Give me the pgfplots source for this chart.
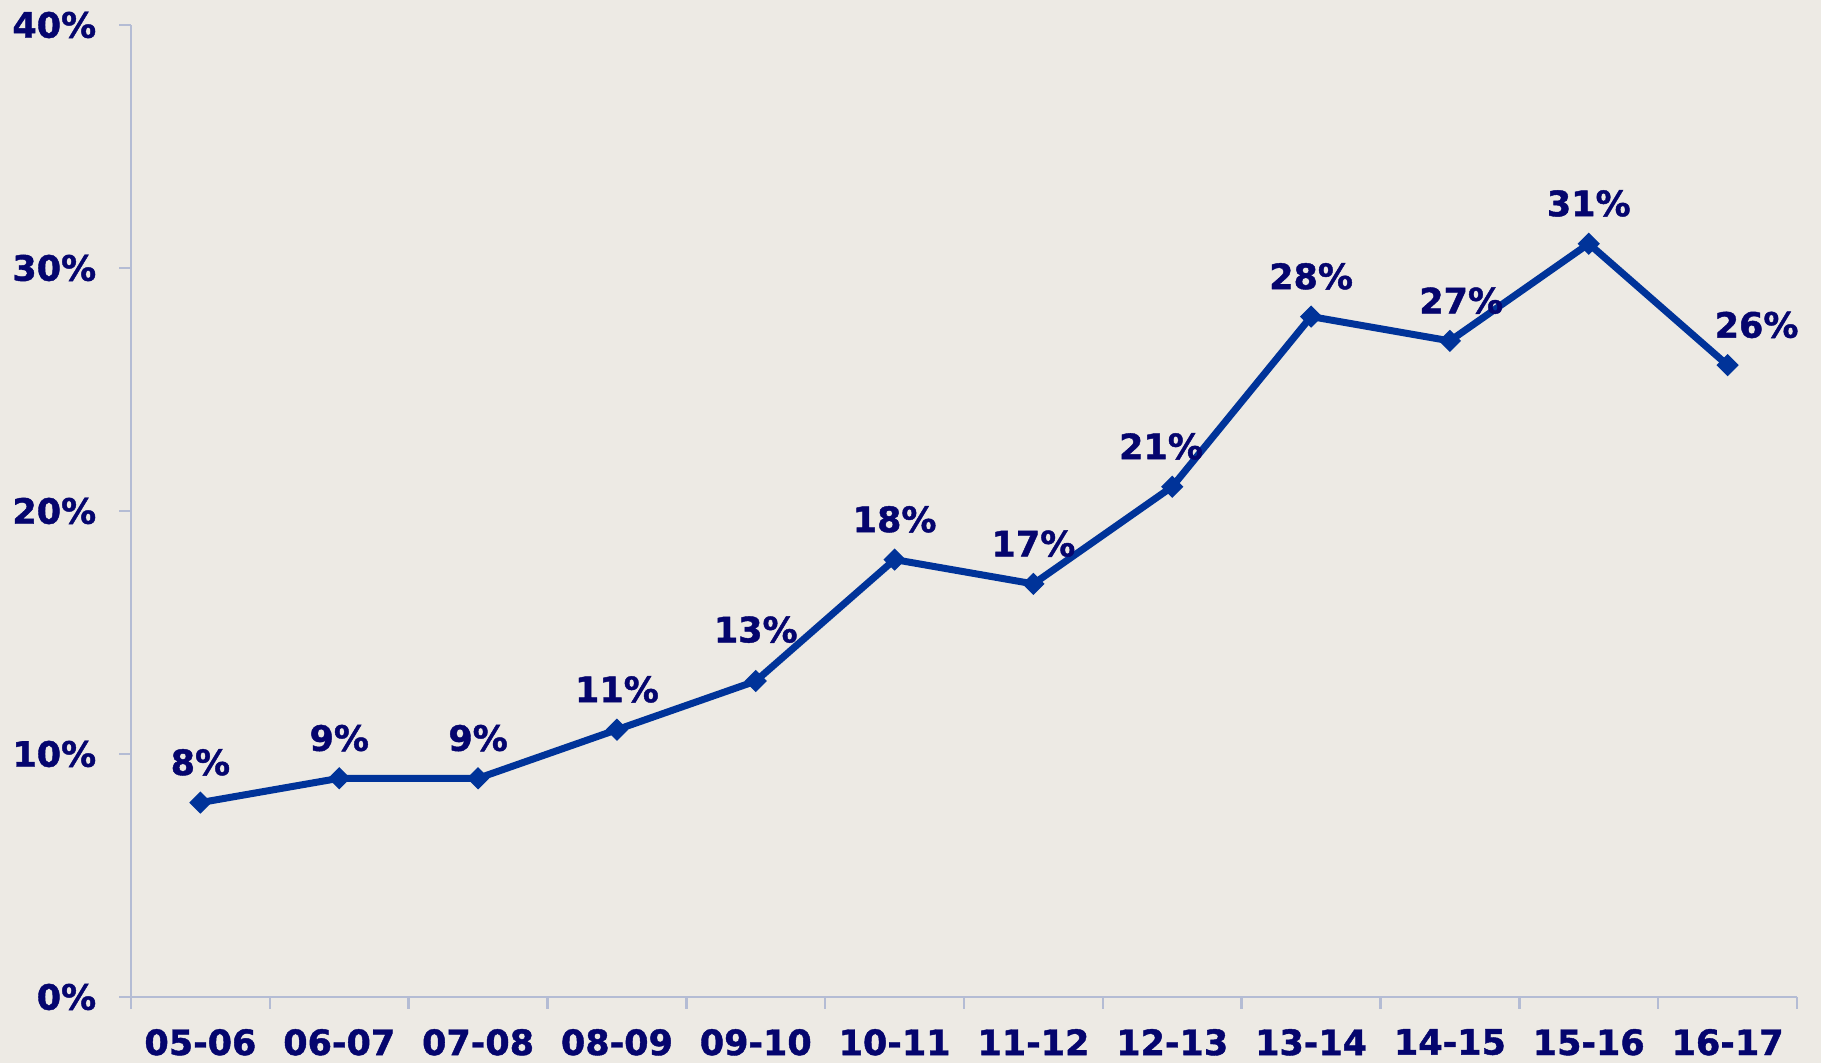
\documentclass[border=0pt]{standalone}
\usepackage{pgfplots}
\pgfplotsset{compat=1.18}
\usepackage{fontspec}
\setmainfont{DejaVu Sans}[BoldFeatures={FakeBold=1.2}]
\definecolor{bgc}{RGB}{237,234,228}
\definecolor{txt}{RGB}{5,5,110}
\definecolor{linec}{RGB}{0,51,153}
\definecolor{axc}{RGB}{180,188,212}
\pgfplotsset{lbl/.style={draw=none, mark=none, nodes near coords={\pgfmathprintnumber{\pgfplotspointmeta}\%},
  every node near coord/.append style={anchor=base, yshift=11pt, inner sep=0pt,
    font=\fontsize{14}{16}\selectfont\bfseries, text=txt}}}
\begin{document}
\begin{tikzpicture}
\fill[bgc] (0,0) rectangle (728.4pt,425.2pt);
\path[use as bounding box] (0,0) rectangle (728.4pt,425.2pt);
\begin{axis}[
  at={(52.4pt,26.4pt)}, anchor=south west,
  scale only axis, width=666.4pt, height=388.8pt,
  xmin=-0.5, xmax=11.5, ymin=0, ymax=40,
  axis x line*=bottom, axis y line*=left,
  axis line style={axc, line width=1pt, -},
  xtick={-0.5,0.5,...,11.5},
  x tick label as interval,
  xticklabels={05-06,06-07,07-08,08-09,09-10,10-11,11-12,12-13,13-14,14-15,15-16,16-17},
  ytick={0,10,20,30,40},
  yticklabel={\pgfmathprintnumber{\tick}\%},
  /pgf/number format/assume math mode=true,
  tick align=outside, major tick length=4.8pt,
  tick style={axc, line width=1pt},
  ticklabel style={font=\fontsize{14}{16}\selectfont\bfseries, text=txt},
  yticklabel style={xshift=-5.6pt},
  xticklabel style={yshift=-4.5pt},
  clip=false,
]
\addplot[linec, line width=2.8pt, mark=square*, mark size=2.9pt,
  mark options={rotate=45, line width=0.5pt, fill=linec}]
  coordinates {(0,8) (1,9) (2,9) (3,11) (4,13) (5,18) (6,17) (7,21) (8,28) (9,27) (10,31) (11,26)};
\addplot[lbl] coordinates {(0,8) (1,9) (2,9) (3,11) (5,18) (6,17) (8,28) (10,31)};
\addplot[lbl, every node near coord/.append style={yshift=4.5pt}] coordinates {(4,13)};
\addplot[lbl, every node near coord/.append style={xshift=-4.5pt}] coordinates {(7,21)};
\addplot[lbl, every node near coord/.append style={xshift=4.5pt}] coordinates {(9,27)};
\addplot[lbl, every node near coord/.append style={xshift=11.6pt}] coordinates {(11,26)};
\end{axis}
\end{tikzpicture}
\end{document}
